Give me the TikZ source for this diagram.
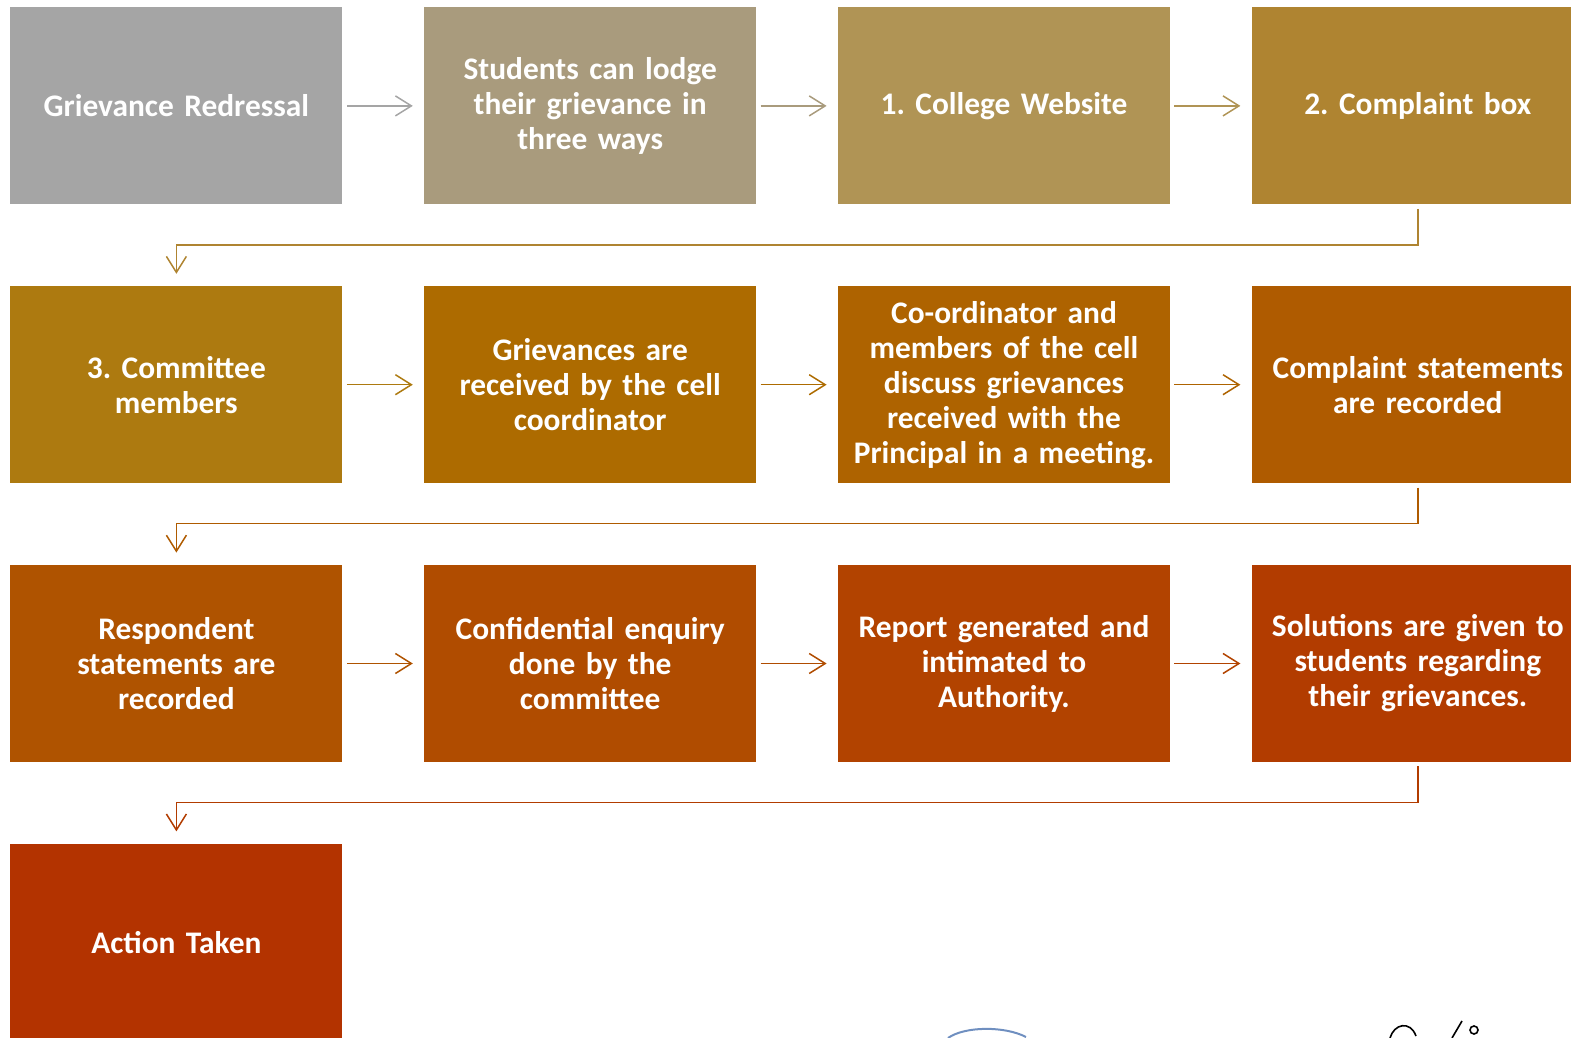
\documentclass[tikz,border=0pt]{standalone}
\usepackage{fontspec}
\setmainfont{Carlito}
\usetikzlibrary{positioning, arrows.meta}
% box colours, from grey through gold to rust
\definecolor{gA}{HTML}{A5A5A5}
\definecolor{gB}{HTML}{A99B7D}
\definecolor{gC}{HTML}{B09455}
\definecolor{gD}{HTML}{AF8431}
\definecolor{oA}{HTML}{AD7A10}
\definecolor{oB}{HTML}{AD6B00}
\definecolor{oC}{HTML}{AE6300}
\definecolor{oD}{HTML}{AF5B00}
\definecolor{rA}{HTML}{AF5300}
\definecolor{rB}{HTML}{B04C00}
\definecolor{rC}{HTML}{B24300}
\definecolor{rD}{HTML}{B23C00}
\definecolor{rE}{HTML}{B33300}
\definecolor{stamp}{HTML}{6F8FC0}
\tikzset{
node distance=40.5pt and 40.5pt, % gap between two boxes
box/.style={rectangle, minimum width=166pt, minimum height=98.5pt, inner sep=0pt,
  text=white, align=center, text width=162pt,
  font=\frenchspacing\bfseries\fontsize{15.7}{17.5}\selectfont}, % every step of the flow
flow/.style={-{Straight Barb[length=8pt,width=10pt]}, line width=0.75pt,
  shorten <=2pt, shorten >=5.5pt}, % arrow between two boxes
turn/.style={flow, shorten >=6pt}, % arrow down to the next row
}
\begin{document}
\begin{tikzpicture}[x=0.5pt,y=-0.5pt]
       \useasboundingbox (0,0) rectangle (1571,1038);
       \node[box, fill=gA, anchor=north west] (griev) at (10,7) {Grievance Redressal};
       \node[box, fill=gB, right=of griev] (lodge) {Students can lodge\\their grievance in\\three ways};
       \node[box, fill=gC, right=of lodge] (web) {1. College Website};
       \node[box, fill=gD, right=of web] (cbox) {2. Complaint box};

       \node[box, fill=oA, below=of griev] (comm) {3. Committee\\members};
       \node[box, fill=oB, right=of comm] (recv) {Grievances are\\received by the cell\\coordinator};
       \node[box, fill=oC, right=of recv] (disc) {Co-ordinator and\\members of the cell\\discuss grievances\\received with the\\Principal in a meeting.};
       \node[box, fill=oD, right=of disc] (cstat) {Complaint statements\\are recorded};

       \node[box, fill=rA, below=of comm] (rstat) {Respondent\\statements are\\recorded};
       \node[box, fill=rB, right=of rstat] (enq) {Confidential enquiry\\done by the\\committee};
       \node[box, fill=rC, right=of enq] (rep) {Report generated and\\intimated to\\Authority.};
       \node[box, fill=rD, right=of rep] (sol) {Solutions are given to\\students regarding\\their grievances.};

       \node[box, fill=rE, below=of rstat] (act) {Action Taken};

       \draw[flow, gA] (griev) -- (lodge);
       \draw[flow, gB] (lodge) -- (web);
       \draw[flow, gC] (web) -- (cbox);
       \draw[turn, gD] (cbox.south) -- ++(0,-20pt) -| (comm.north);

       \draw[flow, oA] (comm) -- (recv);
       \draw[flow, oB] (recv) -- (disc);
       \draw[flow, oC] (disc) -- (cstat);
       \draw[turn, oD] (cstat.south) -- ++(0,-20pt) -| (rstat.north);

       \draw[flow, rA] (rstat) -- (enq);
       \draw[flow, rB] (enq) -- (rep);
       \draw[flow, rC] (rep) -- (sol);
       \draw[turn, rD] (sol.south) -- ++(0,-20pt) -| (act.north);

       % edge of the stamp and the signature, cut by the page
       \draw[stamp, line width=1pt] (948,1038) .. controls (965,1026) and (1005,1026) .. (1026,1037);
       \draw[black, line width=0.8pt] (1390,1038) .. controls (1394,1024) and (1410,1020) .. (1416,1036);
       \draw[black, line width=0.8pt] (1452,1038) -- (1462,1021);
       \draw[black, line width=0.8pt] (1474,1030) circle (4);
\end{tikzpicture}
\end{document}
